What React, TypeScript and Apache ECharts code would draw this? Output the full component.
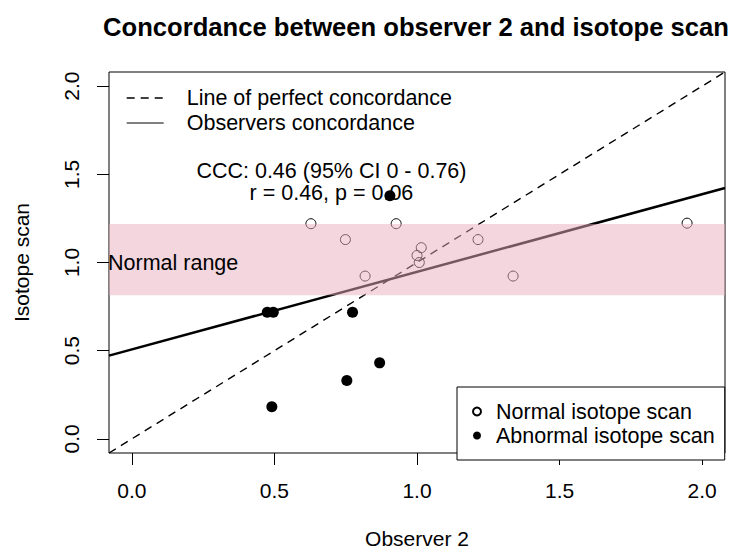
import React, { useEffect, useRef } from 'react';
import * as echarts from 'echarts';

// ---- data ----
const xTicks = [0, 0.5, 1.0, 1.5, 2.0];
const yTicks = [0, 0.5, 1.0, 1.5, 2.0];
const axisMin = -0.08;
const axisMax = 2.08;

const normalX = [0.628, 0.927, 0.749, 1.015, 1.0, 1.008, 0.818, 1.214, 1.337, 1.947];
const normalY = [1.22, 1.22, 1.13, 1.084, 1.04, 1.0, 0.923, 1.13, 0.923, 1.223];
const abnormalX = [0.475, 0.496, 0.774, 0.905, 0.869, 0.754, 0.491];
const abnormalY = [0.718, 0.718, 0.718, 1.379, 0.431, 0.331, 0.182];

const concordanceIntercept = 0.507;
const concordanceSlope = 0.44;
const normalRange = [0.815, 1.218];
const normalRangeLabelY = 1.0;
const cccLines = ['CCC: 0.46 (95% CI 0 - 0.76)', 'r = 0.46, p = 0.06'];
const cccAt = [0.7, 1.5];

const titleText = 'Concordance between observer 2 and isotope scan';
const xName = 'Observer 2';
const yName = 'Isotope scan';
const lineNames = ['Line of perfect concordance', 'Observers concordance'];
const pointNames = ['Normal isotope scan', 'Abnormal isotope scan'];

const FONT = '"Liberation Sans", Arial, Helvetica, sans-serif';

export default function App() {
  const ref = useRef<HTMLDivElement>(null);

  useEffect(() => {
    if (!ref.current) return;
    const chart = echarts.init(ref.current, undefined, { renderer: 'svg' });

    const fmt = (v: number) => Number(v).toFixed(1);
    const hiddenSymbol = { color: 'rgba(0,0,0,0)', borderWidth: 0, opacity: 0 };

    const option: any = {
      animation: false,
      backgroundColor: '#fff',
      textStyle: { fontFamily: FONT, color: '#000' },
      title: {
        text: titleText,
        left: 416,
        top: 14,
        padding: 0,
        textAlign: 'center',
        textVerticalAlign: 'top',
        textStyle: { fontFamily: FONT, fontSize: 25.6, fontWeight: 'bold', color: '#000' },
      },
      grid: {
        left: 109,
        top: 72,
        width: 616,
        height: 388,
        show: true,
        borderColor: '#000',
        borderWidth: 1,
        backgroundColor: 'transparent',
      },
      xAxis: {
        type: 'value',
        min: axisMin,
        max: axisMax,
        name: xName,
        nameLocation: 'middle',
        nameGap: 75,
        nameTextStyle: { fontFamily: FONT, fontSize: 21, color: '#000' },
        axisLine: { show: false, onZero: false },
        splitLine: { show: false },
        axisTick: {
          show: true,
          inside: false,
          length: 12,
          customValues: xTicks,
          lineStyle: { color: '#000', width: 1 },
        },
        axisLabel: {
          customValues: xTicks,
          formatter: fmt,
          fontFamily: FONT,
          fontSize: 21,
          color: '#000',
          margin: 27,
        },
      },
      yAxis: {
        type: 'value',
        min: axisMin,
        max: axisMax,
        name: yName,
        nameLocation: 'middle',
        nameGap: 77,
        nameTextStyle: { fontFamily: FONT, fontSize: 21, color: '#000' },
        axisLine: { show: false, onZero: false },
        splitLine: { show: false },
        axisTick: {
          show: true,
          inside: false,
          length: 12,
          customValues: yTicks,
          lineStyle: { color: '#000', width: 1 },
        },
        axisLabel: {
          customValues: yTicks,
          formatter: fmt,
          rotate: 90,
          fontFamily: FONT,
          fontSize: 21,
          color: '#000',
          margin: 27,
        },
      },
      legend: [
        {
          data: [
            { name: lineNames[0], lineStyle: { width: 1.4, type: [8, 6], color: '#000' }, itemStyle: hiddenSymbol },
            { name: lineNames[1], lineStyle: { width: 1, type: 'solid', color: '#000' }, itemStyle: hiddenSymbol },
          ],
          orient: 'vertical',
          left: 126,
          top: 86,
          padding: 0,
          itemWidth: 37,
          itemHeight: 14,
          itemGap: 1,
          selectedMode: false,
          textStyle: { fontFamily: FONT, fontSize: 21.5, lineHeight: 24, color: '#000', padding: [0, 0, 0, 18] },
        },
        {
          data: pointNames,
          orient: 'vertical',
          left: 457,
          top: 387,
          padding: [13, 10, 13, 15],
          itemWidth: 24,
          itemHeight: 8,
          itemGap: 1,
          borderColor: '#000',
          borderWidth: 1,
          borderRadius: 0,
          backgroundColor: '#fff',
          selectedMode: false,
          z: 30,
          textStyle: { fontFamily: FONT, fontSize: 21.5, lineHeight: 23, color: '#000', padding: [0, 0, 0, 2] },
        },
      ],
      series: [
        {
          name: lineNames[0],
          type: 'line',
          symbol: 'none',
          silent: true,
          data: [
            [axisMin, axisMin],
            [axisMax, axisMax],
          ],
          lineStyle: { color: '#000', width: 1.4, type: [8, 6] },
          itemStyle: { color: '#000' },
          z: 2,
        },
        {
          name: lineNames[1],
          type: 'line',
          symbol: 'none',
          silent: true,
          data: [
            [axisMin, concordanceIntercept + concordanceSlope * axisMin],
            [axisMax, concordanceIntercept + concordanceSlope * axisMax],
          ],
          lineStyle: { color: '#000', width: 2.5, type: 'solid' },
          itemStyle: { color: '#000' },
          z: 2,
        },
        {
          name: pointNames[0],
          type: 'scatter',
          symbol: 'circle',
          symbolSize: 10,
          data: normalX.map((x, i) => [x, normalY[i]]),
          itemStyle: { color: 'rgba(255,255,255,0)', borderColor: '#000', borderWidth: 1, opacity: 1 },
          z: 3,
        },
        {
          name: pointNames[1],
          type: 'scatter',
          symbol: 'circle',
          symbolSize: 11,
          data: abnormalX.map((x, i) => [x, abnormalY[i]]),
          itemStyle: { color: '#000', opacity: 1 },
          z: 3,
        },
        {
          name: 'Normal range band',
          type: 'line',
          data: [],
          silent: true,
          z: 10,
          markArea: {
            silent: true,
            z: 10,
            itemStyle: { color: 'rgb(231,173,189)', opacity: 0.5 },
            label: { show: false },
            data: [[{ yAxis: normalRange[0] }, { yAxis: normalRange[1] }]],
          },
        },
      ],
    };

    chart.setOption(option);

    const pCcc = chart.convertToPixel({ gridIndex: 0 }, cccAt) as number[];
    const pNorm = chart.convertToPixel({ gridIndex: 0 }, [axisMin, normalRangeLabelY]) as number[];
    const textStyle = (text: string, align: string, extra: any = {}) => ({
      text,
      fill: '#000',
      font: `21.5px ${FONT}`,
      align,
      verticalAlign: 'middle',
      textAlign: align,
      textVerticalAlign: 'middle',
      ...extra,
    });
    chart.setOption({
      graphic: [
        {
          type: 'text',
          x: pCcc[0],
          y: pCcc[1] - 3,
          z: 40,
          style: textStyle(cccLines[0], 'center'),
        },
        {
          type: 'text',
          x: pCcc[0],
          y: pCcc[1] + 19,
          z: 40,
          style: textStyle(cccLines[1], 'center'),
        },
        { type: 'text', x: pNorm[0] - 1, y: pNorm[1], z: 40, style: textStyle('Normal range', 'left') },
      ],
    });

    return () => {
      chart.dispose();
    };
  }, []);

  return (
    <div
      ref={ref}
      style={{ position: 'fixed', left: 0, top: 0, width: 734, height: 554, background: '#fff' }}
    />
  );
}
